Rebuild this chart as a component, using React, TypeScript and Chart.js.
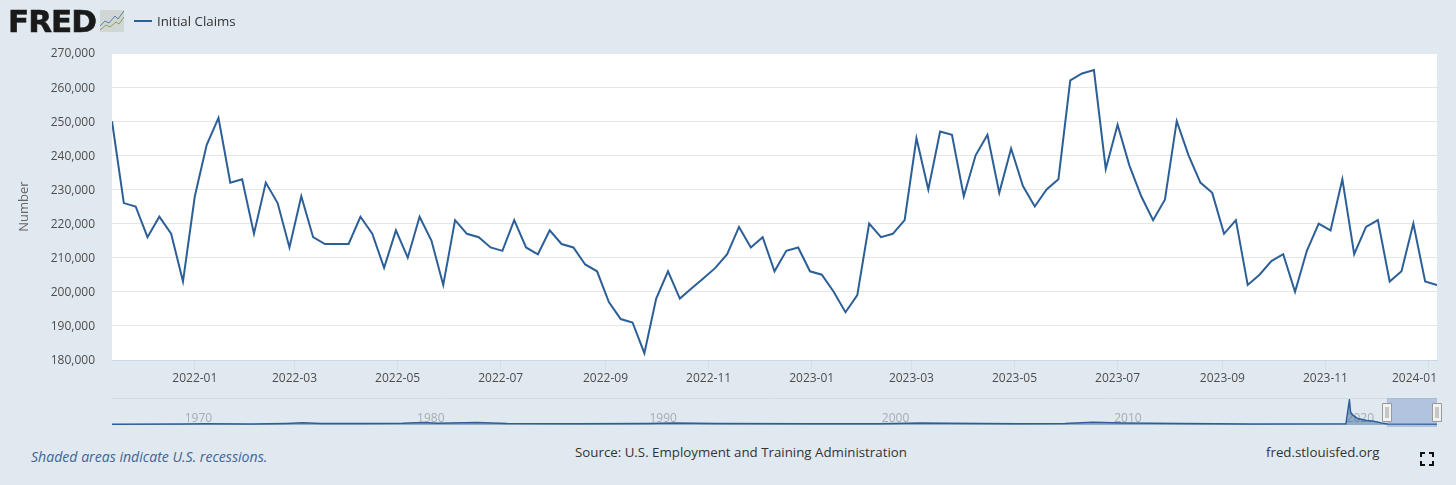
import { useEffect, useRef } from "react"
import { Chart, registerables } from "chart.js"

Chart.register(...registerables)

const FONT = '"Open Sans", sans-serif'
const DAY = 86400000

// weekly initial claims, first week ending 2021-11-13
const firstWeek = Date.UTC(2021, 10, 13)
const claims = [
  250000, 226000, 225000, 216000, 222000, 217000, 203000, 228000, 243000, 251000,
  232000, 233000, 217000, 232000, 226000, 213000, 228000, 216000, 214000, 214000,
  214000, 222000, 217000, 207000, 218000, 210000, 222000, 215000, 202000, 221000,
  217000, 216000, 213000, 212000, 221000, 213000, 211000, 218000, 214000, 213000,
  208000, 206000, 197000, 192000, 191000, 182000, 198000, 206000, 198000, 201000,
  204000, 207000, 211000, 219000, 213000, 216000, 206000, 212000, 213000, 206000,
  205000, 200000, 194000, 199000, 220000, 216000, 217000, 221000, 245000, 230000,
  247000, 246000, 228000, 240000, 246000, 229000, 242000, 231000, 225000, 230000,
  233000, 262000, 264000, 265000, 236000, 249000, 237000, 228000, 221000, 227000,
  250000, 240000, 232000, 229000, 217000, 221000, 202000, 205000, 209000, 211000,
  200000, 212000, 220000, 218000, 233000, 211000, 219000, 221000, 203000, 206000,
  220000, 203000, 202000,
]
const xTickLabels = [
  "2022-01", "2022-03", "2022-05", "2022-07", "2022-09", "2022-11", "2023-01",
  "2023-03", "2023-05", "2023-07", "2023-09", "2023-11", "2024-01",
]

// overview strip, whole history
const navYears = [
  1967, 1970, 1971, 1973, 1974.5, 1975.2, 1976, 1978, 1979.5, 1980.4, 1981, 1982.7,
  1984, 1987, 1990, 1991.2, 1993, 1997, 2000, 2001.8, 2003, 2006, 2008, 2009.2, 2010.5,
  2013, 2016, 2020.1, 2020.25, 2020.3, 2020.4, 2020.6, 2021, 2021.3, 2021.7, 2021.9, 2024.02,
]
const navClaims = [
  200000, 260000, 300000, 240000, 380000, 520000, 380000, 340000, 400000, 600000, 440000,
  620000, 370000, 310000, 380000, 470000, 340000, 320000, 290000, 470000, 400000, 300000,
  370000, 660000, 460000, 340000, 260000, 280000, 6100000, 3200000, 2400000, 1600000,
  1100000, 900000, 400000, 260000, 210000,
]
const navTicks = [1970, 1980, 1990, 2000, 2010, 2020]
const navLabels = ["1970", "1980", "1990", "2000", "2010", "2020"]
const navSelection = [2021.86, 2024.02]

function tickValue(label: string) {
  const [y, m] = label.split("-").map(Number)
  return Date.UTC(y, m - 1, 1)
}

const plotBackground = {
  id: "plotBackground",
  beforeDraw(chart: any) {
    const { ctx, chartArea: a } = chart
    ctx.save()
    ctx.fillStyle = "#ffffff"
    ctx.fillRect(a.left, a.top, a.right - a.left, a.bottom - a.top)
    ctx.restore()
  },
}

const navigatorMask = {
  id: "navigatorMask",
  afterDatasetsDraw(chart: any) {
    const { ctx, chartArea: a, scales } = chart
    const x0 = scales.x.getPixelForValue(navSelection[0])
    const x1 = scales.x.getPixelForValue(navSelection[1])
    ctx.save()
    ctx.strokeStyle = "#d3dbe3"
    ctx.lineWidth = 1
    ctx.beginPath()
    ctx.moveTo(a.left, a.top + 0.5)
    ctx.lineTo(a.right, a.top + 0.5)
    ctx.stroke()
    ctx.fillStyle = "rgba(102,133,194,0.38)"
    ctx.fillRect(x0, a.top, x1 - x0, a.bottom - a.top + 2)
    for (const x of [x0, x1]) {
      const left = Math.round(x) - 4.5
      ctx.fillStyle = "#f2f2f2"
      ctx.strokeStyle = "#999999"
      ctx.beginPath()
      ctx.rect(left, a.top + 5.5, 9, 18)
      ctx.fill()
      ctx.stroke()
      ctx.beginPath()
      ctx.moveTo(left + 3.5, a.top + 9)
      ctx.lineTo(left + 3.5, a.top + 20)
      ctx.moveTo(left + 5.5, a.top + 9)
      ctx.lineTo(left + 5.5, a.top + 20)
      ctx.stroke()
    }
    ctx.restore()
  },
}

function MainChart() {
  const ref = useRef<HTMLCanvasElement>(null)

  useEffect(() => {
    if (!ref.current) return
    const chart = new Chart(ref.current, {
      type: "line",
      data: {
        datasets: [
          {
            label: "Initial Claims",
            data: claims.map((y, i) => ({ x: firstWeek + i * 7 * DAY, y })),
            borderColor: "#2c5f97",
            borderWidth: 2,
            pointRadius: 0,
            tension: 0,
          },
        ],
      },
      options: {
        responsive: false,
        animation: false,
        layout: { padding: { top: 53, right: 19, left: 0, bottom: 0 } },
        plugins: { legend: { display: false }, tooltip: { enabled: false } },
        scales: {
          x: {
            type: "linear",
            min: firstWeek,
            max: firstWeek + (claims.length - 1) * 7 * DAY,
            afterBuildTicks: (axis: any) => {
              axis.ticks = xTickLabels.map((l) => ({ value: tickValue(l) }))
            },
            afterFit: (axis: any) => {
              axis.height = 35
              axis.paddingLeft = 0
              axis.paddingRight = 0
            },
            grid: { drawOnChartArea: false, tickLength: 10, tickColor: "#d5dde8" },
            border: { color: "#ccd6eb" },
            ticks: {
              autoSkip: false,
              maxRotation: 0,
              padding: 1,
              color: "#4d4d4d",
              font: { family: FONT, size: 12 },
              // last label sits inside the plot edge
              callback: (_v: any, i: number) =>
                i === xTickLabels.length - 1
                  ? xTickLabels[i] + "\u00a0".repeat(9)
                  : xTickLabels[i],
            },
          },
          y: {
            min: 180000,
            max: 270000,
            afterFit: (axis: any) => {
              axis.width = 112
            },
            grid: { color: "#e6e6e6", drawTicks: false },
            border: { display: false },
            title: {
              display: true,
              text: "Number",
              color: "#666666",
              font: { family: FONT, size: 13 },
              padding: { top: 16, bottom: 0 },
            },
            ticks: {
              stepSize: 10000,
              padding: 17,
              labelOffset: 1,
              color: "#4d4d4d",
              font: { family: FONT, size: 12 },
              callback: (v: any) => Number(v).toLocaleString("en-US"),
            },
          },
        },
      },
      plugins: [plotBackground],
    } as any)
    return () => chart.destroy()
  }, [])

  return (
    <canvas
      ref={ref}
      width={1456}
      height={395}
      style={{ position: "absolute", left: 0, top: 0 }}
    />
  )
}

function NavigatorChart() {
  const ref = useRef<HTMLCanvasElement>(null)

  useEffect(() => {
    if (!ref.current) return
    const chart = new Chart(ref.current, {
      type: "line",
      data: {
        datasets: [
          {
            data: navYears.map((x, i) => ({ x, y: navClaims[i] })),
            borderColor: "#2c5f97",
            borderWidth: 1.5,
            backgroundColor: "rgba(44,95,151,0.45)",
            fill: "origin",
            pointRadius: 0,
            tension: 0,
          },
        ],
      },
      options: {
        responsive: false,
        animation: false,
        layout: { padding: { top: 3, right: 19, left: 112, bottom: 10 } },
        plugins: { legend: { display: false }, tooltip: { enabled: false } },
        scales: {
          x: {
            type: "linear",
            min: 1967,
            max: 2024.02,
            afterBuildTicks: (axis: any) => {
              axis.ticks = navTicks.map((value) => ({ value }))
            },
            afterFit: (axis: any) => {
              axis.height = 0
              axis.paddingLeft = 0
              axis.paddingRight = 0
            },
            grid: { display: false, drawTicks: false },
            border: { display: false },
            ticks: {
              autoSkip: false,
              maxRotation: 0,
              align: "start",
              mirror: true,
              labelOffset: 3,
              padding: -1,
              color: "#a6acb2",
              font: { family: FONT, size: 12 },
              callback: (_v: any, i: number) => navLabels[i],
            },
          },
          y: { display: false, min: 0, max: 6590000 },
        },
      },
      plugins: [navigatorMask],
    } as any)
    return () => chart.destroy()
  }, [])

  return (
    <canvas
      ref={ref}
      width={1456}
      height={40}
      style={{ position: "absolute", left: 0, top: 395 }}
    />
  )
}

const label: React.CSSProperties = {
  position: "absolute",
  fontFamily: FONT,
  fontSize: 13.3,
  lineHeight: "20px",
  whiteSpace: "nowrap",
}

export default function App() {
  return (
    <div
      style={{
        position: "fixed",
        left: 0,
        top: 0,
        width: 1456,
        height: 485,
        overflow: "hidden",
        background: "#e1e9f0",
      }}
    >
      <MainChart />
      <NavigatorChart />

      <span
        style={{
          position: "absolute",
          left: 8,
          top: 3,
          fontFamily: '"DejaVu Sans", sans-serif',
          fontWeight: 700,
          fontSize: 31,
          lineHeight: "36px",
          letterSpacing: -1,
          WebkitTextStroke: "0.6px #1a1a1a",
          color: "#1a1a1a",
        }}
      >
        FRED
      </span>
      <svg width={24} height={22} style={{ position: "absolute", left: 100, top: 10 }}>
        <rect width={24} height={22} fill="#cfd6d4" />
        <polyline points="0,16 5,11 9,13 15,6 18,9 24,1" fill="none" stroke="#5b7f9f" strokeWidth={1} />
        <polyline points="0,20 6,15 10,17 16,12 19,14 24,7" fill="none" stroke="#86a55a" strokeWidth={1} />
      </svg>

      <div
        style={{
          position: "absolute",
          left: 134,
          top: 20,
          width: 18,
          height: 2,
          background: "#2c5f97",
        }}
      />
      <span style={{ ...label, left: 157, top: 11, color: "#333333" }}>Initial Claims</span>

      <span style={{ ...label, fontSize: 14.1, left: 31, top: 447, color: "#3f6596", fontStyle: "italic" }}>
        Shaded areas indicate U.S. recessions.
      </span>
      <span style={{ ...label, left: 575, top: 442, color: "#333333" }}>
        Source: U.S. Employment and Training Administration
      </span>
      <span style={{ ...label, left: 1266, top: 442, color: "#333333" }}>fred.stlouisfed.org</span>

      <svg width={14} height={14} style={{ position: "absolute", left: 1420, top: 452 }}>
        <path d="M1 5V1H5M9 1H13V5M13 9V13H9M5 13H1V9" fill="none" stroke="#111111" strokeWidth={2} />
      </svg>
    </div>
  )
}
